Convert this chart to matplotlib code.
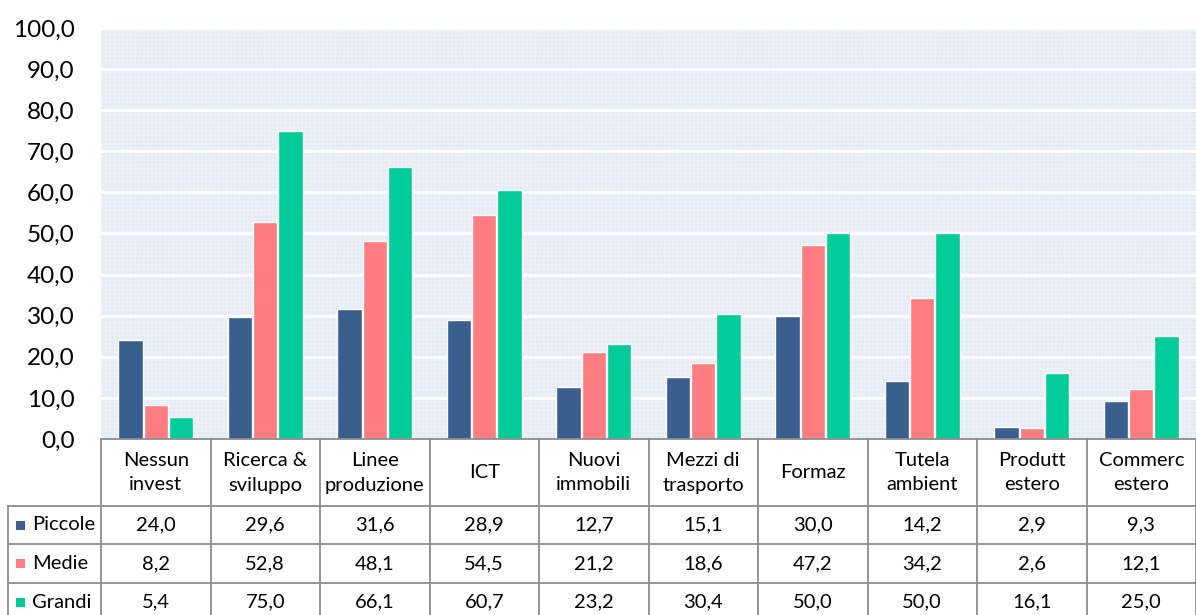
import matplotlib
matplotlib.use("Agg")
import matplotlib.pyplot as plt
from matplotlib.transforms import blended_transform_factory
from matplotlib.patches import Rectangle
from matplotlib.ticker import FuncFormatter

categories = ["Nessun\ninvest", "Ricerca &\nsviluppo", "Linee\nproduzione", "ICT",
              "Nuovi\nimmobili", "Mezzi di\ntrasporto", "Formaz", "Tutela\nambient",
              "Produtt\nestero", "Commerc\nestero"]
series_names = ["Piccole", "Medie", "Grandi"]
piccole = [24.0, 29.6, 31.6, 28.9, 12.7, 15.1, 30.0, 14.2, 2.9, 9.3]
medie = [8.2, 52.8, 48.1, 54.5, 21.2, 18.6, 47.2, 34.2, 2.6, 12.1]
grandi = [5.4, 75.0, 66.1, 60.7, 23.2, 30.4, 50.0, 50.0, 16.1, 25.0]
yticks = [0, 10, 20, 30, 40, 50, 60, 70, 80, 90, 100]

colors = ["#3A5F8E", "#FF7C80", "#00CC99"]
series = [piccole, medie, grandi]

plt.rcParams['font.family'] = ['Lato', 'DejaVu Sans']

W, H = 1196, 615
fig = plt.figure(figsize=(W / 100, H / 100), dpi=100)
ax_left, ax_right, ax_top, ax_bot = 101, 1196, 28, 439
ax = fig.add_axes([ax_left / W, 1 - ax_bot / H, (ax_right - ax_left) / W, (ax_bot - ax_top) / H])

ax.set_facecolor("#E4EBF5")
# fine background pattern
bg = Rectangle((0, 0), 1, 1, transform=ax.transAxes, facecolor="none",
               edgecolor="#ECF1F8", hatch="++++", linewidth=0, zorder=0)
ax.add_patch(bg)

n = len(categories)
xs = list(range(n))
offsets = [-0.232, 0.0, 0.232]
bw = 0.222
for s, vals, c, off in zip(series_names, series, colors, offsets):
    ax.bar([x + off for x in xs], vals, width=bw, color=c, edgecolor="white",
           linewidth=1.0, zorder=3, label=s)

ax.set_xlim(-0.5, n - 0.5)
ax.set_ylim(0, 100)
ax.set_yticks(yticks)
ax.yaxis.set_major_formatter(FuncFormatter(lambda v, p: f"{v:.1f}".replace(".", ",")))
ax.tick_params(axis="y", length=0, labelsize=17.5, pad=19)
ax.set_xticks([])
ax.grid(axis="y", color="white", linewidth=2.2, zorder=1)
ax.set_axisbelow(True)
for sp in ax.spines.values():
    sp.set_visible(False)

# ---- data table below ----
axh = ax_bot - ax_top
def ya(ypix):
    return (ax_bot - ypix) / axh
def xa(xpix):
    return (xpix - ax_left) / (ax_right - ax_left)

bt = blended_transform_factory(ax.transData, ax.transAxes)
lc = "#8C8C8C"
lw = 1.3
row_lines = [439, 506, 544, 583, 622]
# vertical column lines
for k in range(n + 1):
    x = -0.5 + k
    ax.plot([x, x], [ya(439), ya(622)], transform=bt, color=lc, lw=lw, clip_on=False, zorder=5)
# top line (only over the data columns)
ax.plot([0, 1], [ya(439), ya(439)], transform=ax.transAxes, color=lc, lw=lw, clip_on=False, zorder=5)
# row lines including legend column
for yp in row_lines[1:-1]:
    ax.plot([xa(8), 1], [ya(yp), ya(yp)], transform=ax.transAxes, color=lc, lw=lw, clip_on=False, zorder=5)
ax.plot([xa(8), xa(8)], [ya(506), ya(622)], transform=ax.transAxes, color=lc, lw=lw, clip_on=False, zorder=5)

fs = 14.5
# header
for i, cat in enumerate(categories):
    ax.text(i, ya(473), cat, transform=bt, ha="center", va="center", fontsize=fs,
            linespacing=1.5, clip_on=False)
# rows
for r, (s, vals, c) in enumerate(zip(series_names, series, colors)):
    yc = (row_lines[r + 1] + row_lines[r + 2]) / 2
    if r == 2:
        yc = 602
    for i, v in enumerate(vals):
        ax.text(i, ya(yc), f"{v:.1f}".replace(".", ","), transform=bt, ha="center",
                va="center", fontsize=fs, clip_on=False)
    ax.add_patch(Rectangle((xa(16), ya(yc) - 4.5 / axh), 9 / (ax_right - ax_left), 9 / axh,
                           transform=ax.transAxes, facecolor=c, edgecolor="none", clip_on=False))
    ax.text(xa(32), ya(yc), s, transform=ax.transAxes, ha="left", va="center",
            fontsize=fs, clip_on=False)

fig.savefig("out.png", dpi=100)
